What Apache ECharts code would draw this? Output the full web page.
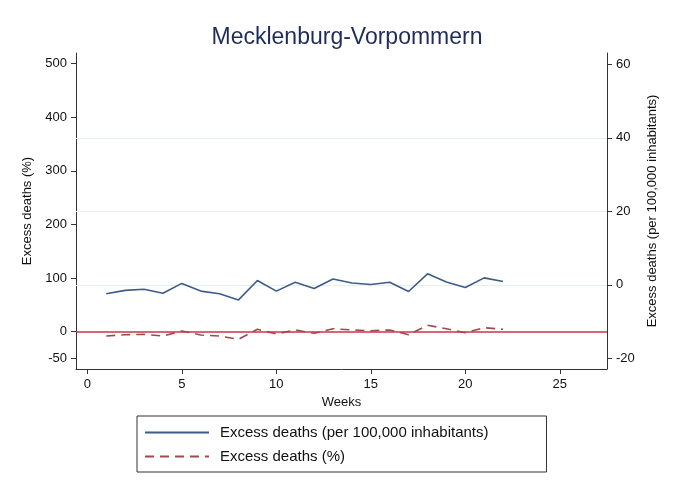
<!DOCTYPE html>
<html>
<head>
<meta charset="utf-8">
<script src="https://cdn.jsdelivr.net/npm/echarts@6/dist/echarts.min.js"></script>
<style>
html,body{margin:0;padding:0;background:#fff;}
#chart{width:675px;height:496px;}
</style>
</head>
<body>
<div id="chart"></div>
<script>
const weeks = [1,2,3,4,5,6,7,8,9,10,11,12,13,14,15,16,17,18,19,20,21,22];
const perHundredK = [-2.4,-1.5,-1.2,-2.3,0.4,-1.7,-2.4,-4.1,1.2,-1.7,0.7,-1.0,1.6,0.5,0.1,0.7,-1.8,3.0,0.8,-0.7,1.9,0.9];
const percent = [-8,-5.6,-4.9,-8,1.3,-6.2,-8,-14.2,4.5,-4.3,3.2,-3,5.6,3.2,1.9,3.2,-5.6,12,5.6,-1.9,7.5,4.5];
const xTicks = [0,5,10,15,20,25];
const leftTicks = [-50,0,100,200,300,400,500];
const rightTicks = [-20,0,20,40,60];
const rightGrid = [0,20,40];
const leftRef = [0];

const font = '"Liberation Sans", Arial, Helvetica, sans-serif';
const axisCol = '#333333';
const chart = echarts.init(document.getElementById('chart'), null, {renderer:'canvas'});
chart.setOption({
  backgroundColor:'#ffffff',
  animation:false,
  title:{text:'Mecklenburg-Vorpommern', left:342, top:21, textAlign:'center',
    textStyle:{fontFamily:font, fontSize:23, fontWeight:'normal', color:'#1f2c5a'}},
  grid:{left:76, right:68, top:53, bottom:127, containLabel:false},
  legend:{
    orient:'vertical', left:137, top:416,
    data:['Excess deaths (per 100,000 inhabitants)','Excess deaths (%)'],
    itemWidth:64, itemHeight:14, itemGap:9,
    padding:[9,58,8,7],
    borderColor:'#333', borderWidth:1, borderRadius:0,
    itemStyle:{opacity:0},
    textStyle:{fontFamily:font, fontSize:15, color:'#111', padding:[0,0,0,6]}
  },
  xAxis:{type:'value', min:-0.6, max:27.5,
    name:'Weeks', nameLocation:'middle', nameGap:27,
    nameTextStyle:{fontFamily:font, fontSize:13, color:'#111'},
    axisLine:{show:true, onZero:false, lineStyle:{color:axisCol, width:1}},
    axisTick:{show:true, length:5, customValues:xTicks, lineStyle:{color:axisCol}},
    axisLabel:{customValues:xTicks, margin:9, fontFamily:font, fontSize:13, color:'#111'},
    splitLine:{show:false}},
  yAxis:[
    {type:'value', position:'left', min:-69.6, max:520,
     name:'Excess deaths (%)', nameLocation:'middle', nameGap:35, nameRotate:90,
     nameTextStyle:{fontFamily:font, fontSize:13, color:'#111'},
     axisLine:{show:true, onZero:false, lineStyle:{color:axisCol, width:1}},
     axisTick:{show:true, length:5, customValues:leftTicks, lineStyle:{color:axisCol}},
     axisLabel:{customValues:leftTicks, margin:9, fontFamily:font, fontSize:13, color:'#111'},
     splitLine:{show:false}},
    {type:'value', position:'right', min:-22.9, max:63.1,
     name:'Excess deaths (per 100,000 inhabitants)', nameLocation:'middle', nameGap:28, nameRotate:90,
     nameTextStyle:{fontFamily:font, fontSize:13, color:'#111'},
     axisLine:{show:true, onZero:false, lineStyle:{color:axisCol, width:1}},
     axisTick:{show:true, length:5, customValues:rightTicks, lineStyle:{color:axisCol}},
     axisLabel:{customValues:rightTicks, margin:9, fontFamily:font, fontSize:13, color:'#111'},
     splitLine:{show:false}}
  ],
  series:[
    {name:'Excess deaths (per 100,000 inhabitants)', type:'line', yAxisIndex:1,
     data:weeks.map((w,i)=>[w,perHundredK[i]]), symbol:'none',
     lineStyle:{color:'#3b5d87', width:1.6}, itemStyle:{color:'#3b5d87'},
     markLine:{silent:true, symbol:'none', label:{show:false}, z:1,
       lineStyle:{color:'#e6eeee', width:1, type:'solid'},
       data:rightGrid.map(v=>({yAxis:v}))}},
    {name:'Excess deaths (%)', type:'line', yAxisIndex:0,
     data:weeks.map((w,i)=>[w,percent[i]]), symbol:'none',
     lineStyle:{color:'#a4484e', width:1.6, type:[9,6]}, itemStyle:{color:'#a4484e'},
     markLine:{silent:true, symbol:'none', label:{show:false},
       lineStyle:{color:'#c93644', width:1.5, type:'solid'},
       data:leftRef.map(v=>({yAxis:v}))}}
  ]
});
</script>
</body>
</html>
